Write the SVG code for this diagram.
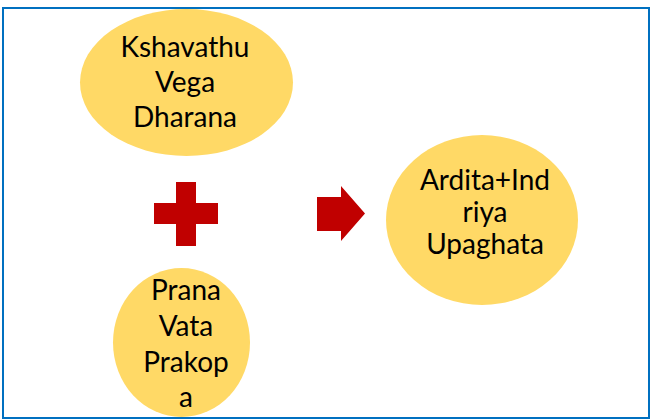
<svg xmlns="http://www.w3.org/2000/svg" width="651" height="420" viewBox="0 0 651 420">
<style>
.node{fill:#FFD966;stroke:none}
.t{font-family:Lato,"Open Sans",sans-serif;font-size:28px;fill:#000;text-anchor:middle}
.red{fill:#C00000}
</style>
<rect x="0" y="0" width="651" height="420" fill="#fff"/>
<rect x="3" y="8" width="646" height="410" fill="none" stroke="#0070C0" stroke-width="2"/>
<g id="n1">
<ellipse class="node" cx="186.5" cy="82.5" rx="106.5" ry="73.5"/>
<text class="t" x="185" y="57">Kshavathu</text>
<text class="t" x="185" y="92">Vega</text>
<text class="t" x="185" y="127">Dharana</text>
</g>
<g id="n2">
<ellipse class="node" cx="181.5" cy="342.5" rx="68.5" ry="74.5"/>
<text class="t" x="186" y="300">Prana</text>
<text class="t" x="186" y="336">Vata</text>
<text class="t" x="186" y="372">Prakop</text>
<text class="t" x="186" y="407">a</text>
</g>
<g id="n3">
<ellipse class="node" cx="482" cy="220" rx="96" ry="85"/>
<text class="t" x="485" y="190">Ardita+Ind</text>
<text class="t" x="485" y="222">riya</text>
<text class="t" x="485" y="254">Upaghata</text>
</g>
<g id="connectors">
<path class="red" d="M176 182H196V203H218V224H196V246H176V224H154V203H176Z"/>
<path class="red" d="M317 197H341V186L365 213.5L341 241V231H317Z"/>
</g>
</svg>
